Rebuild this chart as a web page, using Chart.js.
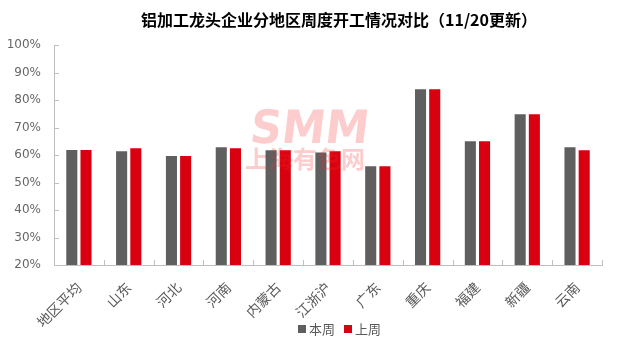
<!DOCTYPE html>
<html>
<head>
<meta charset="utf-8">
<script src="https://cdn.jsdelivr.net/npm/chart.js@4.4.0/dist/chart.umd.min.js"></script>
<style>
    html, body { margin: 0; padding: 0; background: #fff; }
</style>
</head>
<body>
<canvas id="rate-chart" width="624" height="345"></canvas>
<script>
var regions = ['地区平均', '山东', '河北', '河南', '内蒙古', '江浙沪', '广东', '重庆', '福建', '新疆', '云南'];
var thisWeek = [61.8, 61.4, 59.6, 62.8, 61.7, 60.9, 55.9, 83.9, 65.0, 74.8, 62.8];
var lastWeek = [61.8, 62.5, 59.6, 62.5, 61.7, 61.4, 55.9, 83.9, 65.0, 74.8, 61.7];
var yTicks = [20, 30, 40, 50, 60, 70, 80, 90, 100];
var seriesNames = ['本周', '上周'];
var titleText = '铝加工龙头企业分地区周度开工情况对比（11/20更新）';

var cjk = '"Noto Sans CJK SC", "Microsoft YaHei", sans-serif';
var grayBar = '#5f5f5f';
var redBar = '#d9000f';
var axisColor = '#bfbfbf';

// title, legend, watermark and the small inward tick marks
var decorPlugin = {
    id: 'decor',
    afterDatasetsDraw: function(chart) {
        var ctx = chart.ctx;
        ctx.save();
        ctx.fillStyle = 'rgba(245, 40, 40, 0.24)';
        ctx.textAlign = 'center';
        ctx.textBaseline = 'alphabetic';
        ctx.font = 'bold 46px "DejaVu Sans", sans-serif';
        ctx.save();
        ctx.translate(308, 143);
        ctx.transform(1, 0, -0.12, 1, 0, 0);
        ctx.scale(0.95, 1);
        ctx.fillText('SMM', 0, 0);
        ctx.restore();
        ctx.font = 'bold 24px ' + cjk;
        ctx.fillText('上海有色网', 305, 168);
        ctx.restore();
    },
    afterDraw: function(chart) {
        var ctx = chart.ctx;
        var area = chart.chartArea;
        var yScale = chart.scales.y;
        ctx.save();

        // inward ticks
        ctx.strokeStyle = axisColor;
        ctx.lineWidth = 1;
        ctx.beginPath();
        yTicks.forEach(function(v) {
            var y = Math.round(yScale.getPixelForValue(v)) + 0.5;
            ctx.moveTo(area.left, y);
            ctx.lineTo(area.left + 5, y);
        });
        var step = (area.right - area.left) / regions.length;
        for (var i = 1; i <= regions.length; i++) {
            var x = Math.round(area.left + step * i) + 0.5;
            ctx.moveTo(x, area.bottom);
            ctx.lineTo(x, area.bottom - 5);
        }
        ctx.stroke();

        // title
        ctx.fillStyle = '#000';
        ctx.font = 'bold 16px ' + cjk;
        ctx.textAlign = 'center';
        ctx.textBaseline = 'middle';
        ctx.fillText(titleText, 339, 20);

        // legend
        ctx.font = '13px ' + cjk;
        ctx.textAlign = 'left';
        ctx.fillStyle = grayBar;
        ctx.fillRect(298, 325, 8, 8);
        ctx.fillStyle = '#595959';
        ctx.fillText(seriesNames[0], 309, 329);
        ctx.fillStyle = redBar;
        ctx.fillRect(344, 325, 8, 8);
        ctx.fillStyle = '#595959';
        ctx.fillText(seriesNames[1], 355, 329);
        ctx.restore();
    }
};

var ctx = document.getElementById('rate-chart').getContext('2d');
var rateChart = new Chart(ctx, {
    type: 'bar',
    data: {
        labels: regions,
        datasets: [{
            label: seriesNames[0],
            data: thisWeek,
            backgroundColor: grayBar,
            barPercentage: 0.78,
            categoryPercentage: 0.57
        }, {
            label: seriesNames[1],
            data: lastWeek,
            backgroundColor: redBar,
            barPercentage: 0.78,
            categoryPercentage: 0.57
        }]
    },
    options: {
        responsive: false,
        animation: false,
        layout: {
            padding: { top: 45, right: 22, left: 0, bottom: 0 }
        },
        scales: {
            x: {
                grid: { display: false, drawTicks: false },
                border: { color: axisColor, width: 1 },
                ticks: {
                    color: '#595959',
                    font: { family: cjk, size: 14 },
                    maxRotation: 45,
                    minRotation: 45,
                    autoSkip: false,
                    padding: 14
                },
                afterFit: function(scale) { scale.height = 80; }
            },
            y: {
                min: 20,
                max: 100,
                grid: { display: false, drawTicks: false },
                border: { color: axisColor, width: 1 },
                ticks: {
                    stepSize: 10,
                    color: '#666',
                    padding: 13,
                    font: { family: '"DejaVu Sans", sans-serif', size: 12 },
                    callback: function(value) {
                        return value + '%';
                    }
                },
                afterFit: function(scale) { scale.width = 54; }
            }
        },
        plugins: {
            legend: { display: false },
            title: { display: false },
            tooltip: { enabled: false }
        }
    },
    plugins: [decorPlugin]
});
</script>
</body>
</html>
